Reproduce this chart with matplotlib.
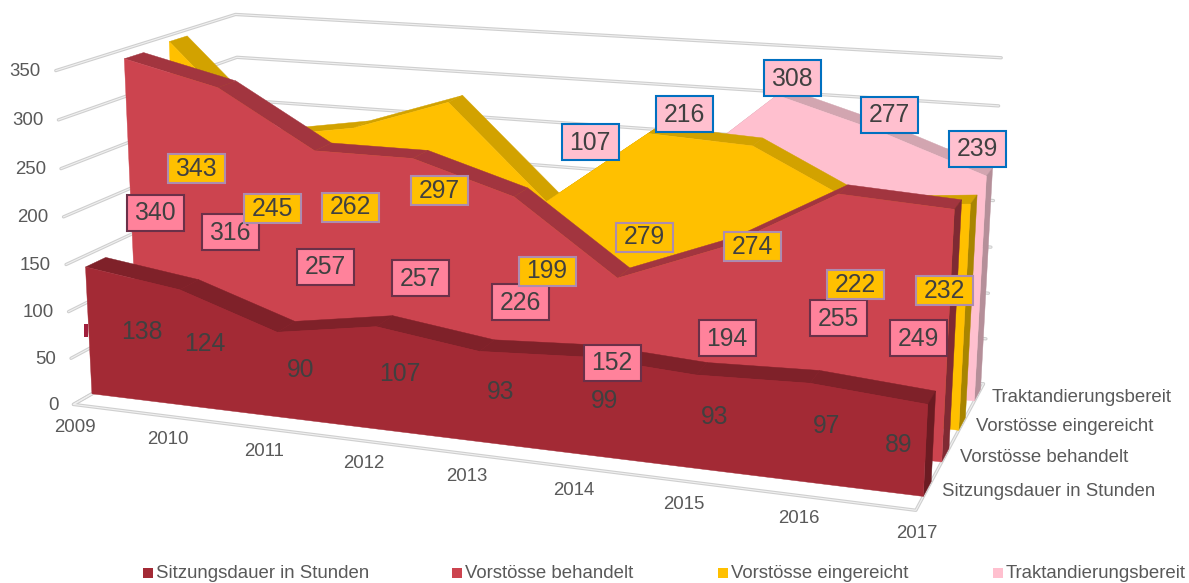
import matplotlib
matplotlib.use("Agg")
import matplotlib.pyplot as plt
from matplotlib.patches import Polygon, Rectangle
import numpy as np

plt.rcParams["font.family"] = ["Liberation Sans", "DejaVu Sans"]

years = ["2009", "2010", "2011", "2012", "2013", "2014", "2015", "2016", "2017"]
series_names = ["Sitzungsdauer in Stunden", "Vorstösse behandelt", "Vorstösse eingereicht", "Traktandierungsbereit"]
y_ticks = [0, 50, 100, 150, 200, 250, 300, 350]

sitzungsdauer = [138, 124, 90, 107, 93, 99, 93, 97, 89]
behandelt = [340, 316, 257, 257, 226, 152, 194, 255, 249]
eingereicht = [343, 245, 262, 297, 199, 279, 274, 222, 232]
# first four are hidden behind the other series, so only a guess
traktandiert = [150, 130, 110, 100, 107, 216, 308, 277, 239]
trakt_labelled = [None, None, None, None, 107, 216, 308, 277, 239]

# label centres in pixels, the labels were moved by hand in the original
pos_sitzung = [(142, 332), (205, 344), (301, 370), (400, 374), (501, 392), (605, 401), (715, 417), (827, 426), (899, 445)]
pos_behandelt = [(155, 213), (230, 232), (325, 267), (420, 278), (520, 302), (612, 363), (727, 338), (838, 318), (918, 338)]
pos_eingereicht = [(196, 168), (272, 208), (350, 207), (439, 190), (547, 271), (644, 237), (752, 246), (855, 284), (944, 290)]
pos_trakt = [None, None, None, None, (590, 142), (684, 114), (792, 78), (889, 115), (977, 149)]

front_d = 0.38
back_d = 0.80

# camera fit: (year index, depth, value) -> pixel, read from the wall corners and slab ends
calib = [
    (0, 0, 0, 74, 404), (0, 0, 50, 72, 358), (0, 0, 100, 69, 312), (0, 0, 150, 67, 264),
    (0, 0, 200, 64, 216), (0, 0, 250, 62, 168), (0, 0, 300, 59, 119), (0, 0, 350, 56, 70),
    (0, 4, 350, 237, 14), (0, 4, 300, 238, 57),
    (8, 0, 0, 917, 510), (8, 4, 0, 985, 383), (8, 4, 50, 985, 339),
    (8, 4, 200, 992, 200), (8, 4, 300, 1000, 107), (8, 4, 350, 1002, 58),
    (8, front_d, 0, 922, 497), (8, front_d, 89, 928, 405),
    (0, front_d, 0, 90, 395), (0, front_d, 138, 84, 268),
    (0, 1 + front_d, 340, 122, 60), (0, 2 + front_d, 343, 167, 43), (8, 3 + front_d, 239, 985, 175),
]
weights = np.ones(len(calib))
for _ in range(10):
    A, b = [], []
    for (x, d, v, u, w), wt in zip(calib, weights):
        A.append([wt * c for c in (x, d, v, 1, 0, 0, 0, 0, -u * x, -u * d, -u * v)])
        b.append(wt * u)
        A.append([wt * c for c in (0, 0, 0, 0, x, d, v, 1, -w * x, -w * d, -w * v)])
        b.append(wt * w)
    A = np.array(A, dtype=float)
    scale = np.abs(A).max(axis=0)
    p = np.linalg.lstsq(A / scale, np.array(b, dtype=float), rcond=None)[0] / scale
    P = np.append(p, 1).reshape(3, 4)
    weights = np.array([1 / (P[2] @ np.array([x, d, v, 1.0])) for x, d, v, _u, _w in calib])


def project(x, d, v):
    h = P @ np.array([x, d, v, 1.0])
    return h[0] / h[2], h[1] / h[2]


fig = plt.figure(figsize=(11.89, 5.83), dpi=100)
ax = fig.add_axes([0, 0, 1, 1])
ax.set_xlim(0, 1189)
ax.set_ylim(583, 0)
ax.axis("off")


def grid_line(pts):
    xs, ys = zip(*pts)
    ax.plot(xs, ys, color="#CFCFCF", lw=2.4, solid_capstyle="round", zorder=1)
    ax.plot(xs, ys, color="#F0F0F0", lw=0.8, solid_capstyle="round", zorder=1.1)


# walls and floor
for v in y_ticks:
    grid_line([project(0, 0, v), project(0, 4, v), project(8, 4, v)])
grid_line([project(0, 4, 0), project(0, 0, 0), project(8, 0, 0), project(8, 4, 0)])

# tick labels
for v in y_ticks:
    px, py = project(0, 0, v)
    ax.text(px - 15, py + 1, str(v), ha="right", va="center", fontsize=13.4, color="#595959")
for i, yr in enumerate(years):
    px, py = project(i, 0, 0)
    ax.text(px + 1, py + 23, yr, ha="center", va="center", fontsize=13.4, color="#595959")
for i, name in enumerate(series_names):
    px, py = project(8, i + 0.55, 0)
    ax.text(px + 15, py + 1, name, ha="left", va="center", fontsize=13.4, color="#595959")

# slabs back to front: values, front colour, top colour, end colour
slabs = [
    (3, traktandiert, "#FFC0CF", "#D2A5B0", "#B58F99"),
    (2, eingereicht, "#FFC000", "#D2A200", "#A88500"),
    (1, behandelt, "#CC444F", "#A2353F", "#7F2A33"),
    (0, sitzungsdauer, "#A32A35", "#7F2129", "#6B1B22"),
]
z = 2
for i, vals, col, top, end in slabs:
    d0 = i + front_d
    d1 = i + back_d
    for k in range(8):
        quad = [project(k, d0, vals[k]), project(k + 1, d0, vals[k + 1]),
                project(k + 1, d1, vals[k + 1]), project(k, d1, vals[k])]
        ax.add_patch(Polygon(quad, closed=True, fc=top, ec=top, lw=0.3, zorder=z))
    quad = [project(8, d0, 0), project(8, d1, 0), project(8, d1, vals[8]), project(8, d0, vals[8])]
    ax.add_patch(Polygon(quad, closed=True, fc=end, ec=end, lw=0.3, zorder=z))
    front = [project(0, d0, 0)] + [project(k, d0, vals[k]) for k in range(9)] + [project(8, d0, 0)]
    ax.add_patch(Polygon(front, closed=True, fc=col, ec=col, lw=0.3, zorder=z + 0.5))
    z += 1

# stray legend key next to the first label
ax.add_patch(Rectangle((84, 324), 3.5, 13, fc="#A01F3C", ec="none", zorder=z))
z += 1


def boxed(vals, positions, fill, edge, h, zo):
    for val, pos in zip(vals, positions):
        if val is None:
            continue
        ax.add_patch(Rectangle((pos[0] - 28.5, pos[1] - h / 2), 57, h, fc=fill, ec=edge, lw=1.5, zorder=zo))
        ax.text(pos[0], pos[1] + 0.5, str(val), ha="center", va="center", fontsize=17.8, color="#404040", zorder=zo + 0.1)


for val, pos in zip(sitzungsdauer, pos_sitzung):
    ax.text(pos[0], pos[1], str(val), ha="center", va="center", fontsize=17.8, color="#404040", zorder=z)
boxed(behandelt, pos_behandelt, "#FF829B", "#6B3048", 36, z + 1)
boxed(eingereicht, pos_eingereicht, "#FFC000", "#AD8CB0", 29, z + 2)
boxed(trakt_labelled, pos_trakt, "#FFC0CF", "#0070C0", 36, z + 3)

# legend
key_x = [143, 452, 718, 993]
key_col = ["#A32A35", "#CC444F", "#FFC000", "#FFC0CF"]
for kx, c, name in zip(key_x, key_col, series_names):
    ax.add_patch(Rectangle((kx, 568), 10, 10, fc=c, ec="none"))
    ax.text(kx + 13, 574, name, ha="left", va="center", fontsize=13.4, color="#595959")

fig.savefig("out.png", dpi=100)
